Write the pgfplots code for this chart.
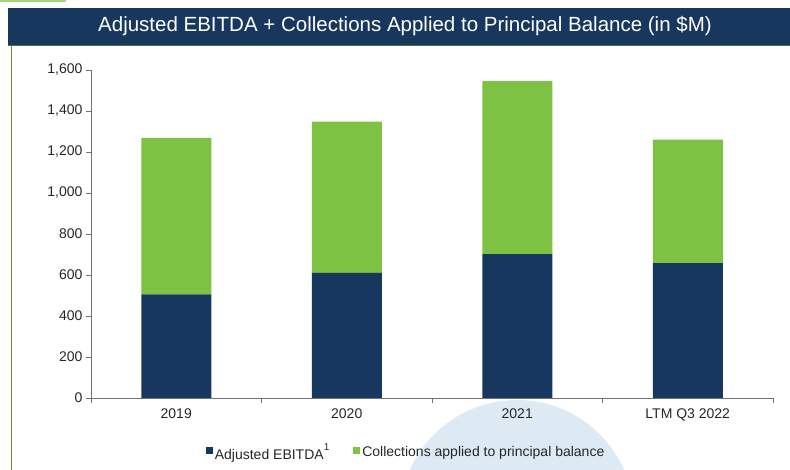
\documentclass[border=0pt]{standalone}
\usepackage{pgfplots}
\pgfplotsset{compat=1.18}
\usepackage{fontspec}
\setmainfont{Liberation Sans}
\definecolor{navy}{HTML}{17375E}
\definecolor{lgreen}{HTML}{7DC242}
\definecolor{edge}{HTML}{6E8B3D}
\definecolor{wm}{HTML}{DDEAF3}
\begin{document}
\begin{tikzpicture}[x=1pt,y=1pt]
\useasboundingbox (0,0) rectangle (790,470);
% background watermark and frame
\begin{scope}
\clip (0,0) rectangle (790,470);
\fill[wm] (517,-47) circle (117);
\end{scope}
\draw[lgreen!70, line width=2pt] (0,469) -- (66,469);
\draw[edge, line width=1pt] (11,0) -- (11,425);
\fill[navy] (8,425) rectangle (790,462);
\draw[lgreen!60!black, line width=0.6pt] (8,425) -- (790,425);
\node[white, font=\fontsize{20.5}{24}\selectfont] at (405,443.5) {Adjusted EBITDA + Collections Applied to Principal Balance (in \$M)};
\begin{axis}[
    at={(91pt,72pt)}, anchor=south west,
    scale only axis, width=682pt, height=328pt,
    ybar stacked, bar width=70pt,
    xmin=-0.5, xmax=3.5, ymin=0, ymax=1600,
    axis lines=left, axis line style={-, gray!90!black, line width=0.8pt},
    xtick={0,1,2,3},
    xticklabels={2019, 2020, 2021, LTM Q3 2022},
    minor xtick={-0.5,0.5,1.5,2.5,3.5},
    major x tick style={draw=none},
    minor x tick style={gray!90!black, line width=0.8pt},
    ytick={0,200,...,1600},
    y tick style={gray!90!black, line width=0.8pt},
    tick align=outside, major tick length=5pt, minor tick length=5pt,
    ticklabel style={font=\fontsize{14}{16}\selectfont, text=black!85},
    /pgf/number format/assume math mode=true,
    /pgf/number format/1000 sep={,},
    scaled y ticks=false,
    xticklabel style={yshift=-2pt},
    legend columns=2,
    legend style={draw=none, fill=none, at={(0.462,-0.165)}, anchor=center,
        font=\fontsize{14}{16}\selectfont, text=black!85,
        /tikz/every even column/.append style={column sep=22pt}},
    legend image code/.code={\fill[#1] (2pt,-1.5pt) rectangle (9pt,5.5pt);},
]
\addplot[fill=navy, draw=none] coordinates {(0,506) (1,610) (2,702) (3,658)};
\addplot[fill=lgreen, draw=none] coordinates {(0,763) (1,738) (2,844) (3,602)};
\legend{Adjusted EBITDA\raisebox{1.2ex}{\fontsize{10}{12}\selectfont 1}, Collections applied to principal balance}
\end{axis}
\end{tikzpicture}
\end{document}
